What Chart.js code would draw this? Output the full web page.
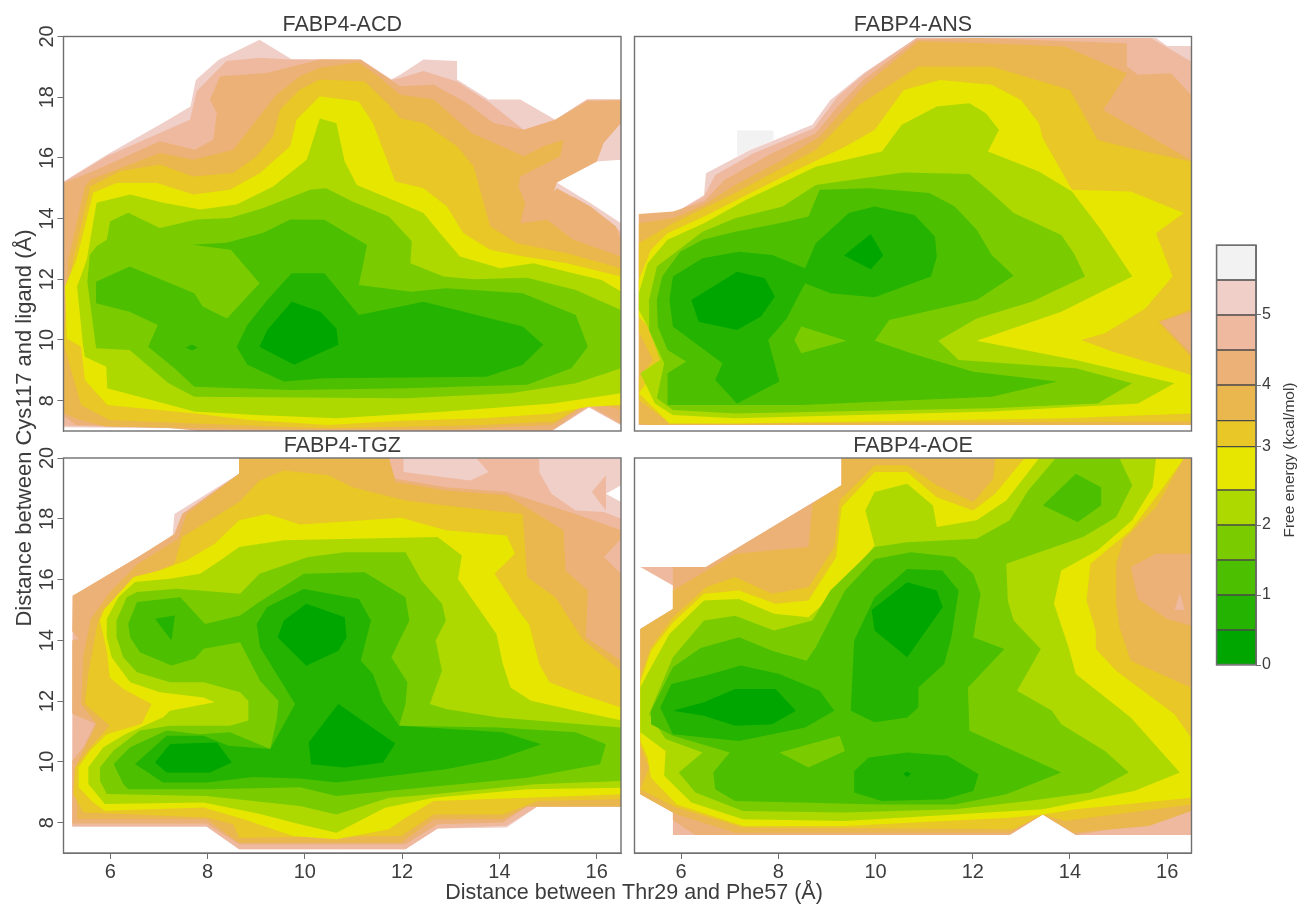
<!DOCTYPE html>
<html><head><meta charset="utf-8">
<style>html,body{margin:0;padding:0;background:#fff;width:1302px;height:908px;overflow:hidden}canvas{position:absolute}</style>
<script src="https://cdn.jsdelivr.net/npm/chart.js@4"></script>
</head><body>
<script>
// Free-energy bins, bottom to top (terrain palette)
const binColors=['#00A600','#24B300','#4CBF00','#7ACC00','#ADD900','#E6E600','#E8C727','#EAB64E','#ECB176','#EEB99F','#F0CFC8','#F2F2F2'];
const binEdges=[0,0.5,1,1.5,2,2.5,3.12,3.49,4,4.5,5,5.5,6];
const colorbarTicks=[0,1,2,3.12,4,5];
const xTickValues=[6,8,10,12,14,16];
const yTickValues=[8,10,12,14,16,18,20];
const xRange=[5.04,16.5];
const yRange=[7,20];

// ACD: contours as x,y pairs (Å)
const acd55=[5.04,15.22,5.93,16.1,7.07,17.14,7.65,17.69,7.76,18.57,8.23,19.23,9.07,19.89,9.73,19.25,11.15,19.25,11.78,18.59,11.96,18.74,12.44,19.24,13.13,19.19,13.13,18.58,13.78,17.92,14.43,17.92,15.15,17.26,15.8,17.92,16.5,17.92,16.5,15.94,16,15.88,15.18,15.19,15.87,14.51,16.5,13.85,16.5,7.2,15.84,7.78,15.08,7,7.75,7,7.75,7.08,5.04,7.12];
const acd50=[5.04,15.2,5.93,16.05,7.64,17.26,7.78,18.2,8.39,19.19,9.08,19.3,9.7,19.24,11.15,19.23,11.78,18.57,11.96,18.63,12.44,18.86,13.13,18.52,13.81,17.81,14.5,16.93,14.6,16.98,15.15,17.26,15.8,17.92,16.5,17.92,16.5,17.15,16.14,16.49,16,15.88,15.18,15.19,14.94,14.56,15.18,14.34,15.52,14.73,15.87,14.4,16.5,13.57,16.5,7.2,15.84,7.78,15.08,7,7.75,7,7.75,7.08,5.04,7.17];
const acd45=[5.04,15.17,5.65,15.56,7.02,16.55,7.74,16.27,8.12,16.6,8.19,17.48,8.05,17.92,8.26,18.69,9.22,18.8,9.9,19.08,10.31,19.24,11.15,19.23,11.78,18.55,11.96,18.36,12.65,18.41,13.33,17.81,13.88,17.15,14.5,16.93,15.15,17.26,15.8,17.87,16.5,17.9,16.5,17.15,16.14,16.49,16,15.88,15.18,15.19,15.11,14.84,14.94,14.56,15.18,15,15.87,14.4,16.4,13.74,16.5,13.3,16.5,7.25,15.84,7.85,15.08,7.02,7.75,7.02,7.2,7.1,5.3,7.2,5.04,7.5];
const acd40=[5.04,10,5.14,12.65,5.48,15.06,5.59,15.28,7.02,16.16,7.71,15.94,8.53,16.27,9.01,17.26,9.42,18.09,9.9,18.69,10.31,18.97,11.1,19.15,11.5,18.7,11.96,18.08,12.65,17.92,13.43,16.82,14.5,16.05,14.91,16.38,15.32,16.6,15.25,16.05,14.43,15.39,14.39,15.06,14.53,14.51,14.43,13.85,14.98,13.96,15.52,13.3,16.5,12.75,16.5,7.7,15.84,7.95,15.1,7.2,13,7.05,9.5,7.05,7.75,7.1,5.9,7.15,5.3,7.4,5.04,7.6];
const acd35=[5.24,12.65,5.59,15.06,6.2,15.56,7.02,15.78,7.71,15.39,8.53,15.5,9.01,16.05,9.35,16.71,9.49,17.59,9.9,18.25,10.31,18.58,11.23,18.52,11.73,17.75,11.96,17.31,12.44,17.15,13.13,16.38,13.47,15.72,13.64,14.73,13.81,13.74,14.36,13.19,15.39,12.86,16.5,12.36,16.5,8.19,15.82,7.91,15.15,7.31,13.65,7.2,10.5,7.09,7.73,7.25,5.98,7.36,5.4,7.86,5.04,9.89,5.1,11.3];
const acd30=[5.07,11.76,5.31,12.65,5.65,14.85,6.13,15.17,6.96,15.17,7.71,14.79,8.46,14.95,9.08,15.5,9.7,16.38,9.83,17.26,10.31,18.03,10.45,18,11.11,17.86,11.4,17.14,11.86,15.22,12.44,15,12.92,14.4,13.26,13.52,13.81,12.97,14.5,12.75,15.39,12.53,16.5,12.09,16.5,7.86,15.82,7.8,15.09,7.58,13.67,7.42,12,7.34,10.47,7.2,8.87,7.36,7.73,7.58,5.94,7.86,5.48,8.68,5.4,9.78,5.11,10.05];
const acd25=[5.32,11.76,5.52,12.65,5.72,14.52,6.41,14.79,7.09,14.52,7.85,14.3,8.6,14.46,9.35,15.06,10.04,15.94,10.31,17.3,10.65,17.14,10.82,15.88,11.07,15.11,11.96,14.51,12.44,14.18,12.78,13.52,13.19,12.75,14.02,12.36,14.7,12.53,15.39,12.25,16.1,11.98,16.5,11.6,16.5,8.24,15.09,7.91,12.9,7.64,10.65,7.42,9,7.53,7.73,7.64,5.94,8.41,5.92,9.12,5.48,9.45,5.44,9.84];
const acd20=[5.53,11.92,5.58,12.8,5.72,13.09,5.93,13.3,6,13.91,6.37,14.19,7.02,13.69,7.78,13.97,8.46,14.02,9.15,14.35,10.11,14.95,10.44,15,10.98,14.56,11.73,14.07,12.2,13.25,12.17,12.53,12.85,12.09,13.47,12,14.57,12.05,15.57,11.65,16.5,10.99,16.5,9.07,15.57,8.57,14.23,8.24,12.07,8.08,7.73,8.13,7.2,8.57,6.4,9.67,5.71,9.73];
const acd15=[5.71,11.92,6.4,12.42,7.73,11.54,7.9,11.1,8.4,10.71,9.07,11.87,8.48,12.97,7.68,13.14,8.39,13.2,9.15,13.53,9.7,13.97,10.4,13.96,11.28,13.13,11.11,11.81,12.19,11.59,12.9,11.7,14.48,11.54,15.57,10.82,15.82,9.78,15.48,9.07,14.57,8.52,12.07,8.41,9.73,8.35,7.73,8.46,7.32,9.07,6.78,9.78,6.98,10.49,6.4,10.93,5.71,11.21];
const acd10=[8.6,9.78,8.82,10.49,9.23,11.32,9.73,12.2,10.4,12.2,11.11,10.82,12.44,11.26,14.48,10.44,14.9,9.84,14.48,9.18,13.73,8.79,10.4,8.74,9.57,8.63,8.82,9.18];
const acd10b=[7.55,9.75,7.68,9.85,7.8,9.75,7.68,9.65];
const acd05=[9.07,9.78,9.23,10.33,9.73,11.26,10.32,10.93,10.65,10.38,10.69,9.84,9.78,9.18];
const acdLayers=[[5.5,acd55],[5,acd50],[4.5,acd45],[4,acd40],[3.5,acd35],[3,acd30],[2.5,acd25],[2,acd20],[1.5,acd15],[1,acd10],[1,acd10b],[0.5,acd05]];

// ANS
const ans60=[7.15,16.9,7.9,16.9,7.9,16.6,7.15,16.05];
const ans55=[5.13,14.15,5.83,14.15,6.47,14.78,6.51,15.49,7.42,16.26,8.7,17.09,9.07,17.91,9.75,18.79,10.84,19.95,15.77,19.95,16,19.69,16.49,19.69,16.49,7.2,5.13,7.2];
const ans50=[5.13,14.15,5.83,14.15,6.47,14.73,6.7,15.44,7.49,16.15,8.73,16.98,9.22,18.02,9.83,18.85,10.84,19.95,15.66,19.95,16.08,19.56,16.49,19.18,16.49,7.2,5.13,7.2];
const ans45=[5.13,14.15,5.83,14.23,6.47,14.56,6.89,15.27,7.87,16.15,8.77,16.81,9.22,17.69,9.75,18.57,10.84,19.89,12.08,19.95,15.17,19.78,15.17,19.01,15.4,18.74,16.08,18.79,16.49,18.08,16.49,7.2,5.13,7.2];
const ans40=[5.13,13.85,5.83,14.01,6.47,14.45,7.11,15.11,8.02,15.88,8.85,16.7,9.75,18.35,10.88,19.84,12.2,19.78,13.89,19.67,15.17,18.79,14.87,18.02,14.68,17.58,15.4,16.92,16.49,15.93,16.49,10.93,15.85,10.6,16.49,9.56,16.49,7.2,5.3,7.2,5.13,7.25];
const ans35=[5.13,13.19,5.83,13.85,7.11,14.84,7.87,15.49,8.77,16.26,9.67,17.75,10.88,19.01,12.39,19.01,14,18.24,14.19,17.69,14.57,16.59,15.4,16.26,16.49,15.88,16.49,11,15.82,10.6,16.49,9.45,16.49,7.31,7.11,7.25,5.76,7.25,5.13,8.02,5.13,8.74,5.42,9.34,5.13,10.27];
const ans30=[5.13,11.98,5.38,12.97,5.72,13.52,6.47,14.07,7.49,14.89,8.24,15.49,9.37,16.37,9.98,16.92,10.58,18.24,11.33,18.57,12.39,18.41,12.99,17.91,13.36,17.14,13.44,16.65,14.04,14.95,15.25,14.89,16.34,14.18,15.77,13.52,16.11,12.09,15.55,11.04,14.72,10.22,14.23,10,14.87,9.62,16.49,8.85,16.49,7.58,13.89,7.42,7.11,7.25,5.76,7.25,5.13,8.24,5.61,9.29,5.38,10.33,5.13,10.77];
const ans25=[5.13,11.54,5.31,12.53,5.72,13.3,6.47,13.85,7.34,14.62,8.77,15.71,10.13,16.21,10.54,17.09,11.26,17.69,11.93,17.8,12.27,17.47,12.54,16.92,12.31,16.21,13.36,15.55,14.04,14.89,14.64,13.63,15.28,12.09,13.82,10.93,12.08,9.97,14.12,9.34,16.15,8.57,15.4,7.91,12.39,7.64,7.11,7.42,5.83,7.53,5.46,7.91,5.16,8.9,5.57,9.34,5.31,10.44,5.13,10.99];
const ans20=[5.34,11.32,5.5,12.42,6.44,13.57,7.11,14.01,8.09,14.4,8.77,15.11,10.58,15.52,11.93,15.47,12.39,14.84,12.84,14.18,13.82,13.46,14.08,12.86,14.31,12.09,13.21,11.26,12.08,10.71,11.29,9.97,11.71,9.34,14.12,9.07,15.28,8.57,14.57,7.91,12.39,7.75,7.11,7.58,5.83,7.69,5.5,8.08,5.65,9.23,5.34,10.33];
const ans15=[5.5,11.32,5.61,12.09,5.98,12.91,6.44,13.3,7.11,13.57,8.02,13.85,8.62,14.07,8.85,14.95,9.9,15,11.11,14.84,11.63,14.4,12.08,13.63,12.39,12.8,12.84,12.12,12.08,11.32,10.28,10.66,9.98,9.97,10.73,9.56,12.01,8.95,13.74,8.63,12.39,8.13,8.47,7.86,5.72,7.86,5.72,8.9,6.1,9.29,5.72,9.67,5.52,10.44];
const ans20b=[8.47,10.44,9.4,9.97,8.47,9.56,8.33,10];
const ans10=[5.76,11.32,5.83,12.09,6.44,12.69,7.19,12.91,7.87,12.8,8.55,12.36,8.77,13.19,9.45,14.18,9.98,14.4,10.8,14.12,11.22,13.41,11.26,12.75,11.14,12.09,9.98,11.41,9.07,11.54,8.55,11.87,8.17,10.71,7.79,10,8.02,8.63,7.15,7.91,6.7,8.68,6.85,9.23,5.83,10.44];
const ans05a=[6.21,11.32,7.15,12.25,7.72,12.03,7.93,11.43,7.64,10.77,7.15,10.33,6.36,10.6];
const ans05b=[9.35,12.78,9.9,13.49,10.16,12.78,9.9,12.33];
const ansLayers=[[6,ans60],[5.5,ans55],[5,ans50],[4.5,ans45],[4,ans40],[3.5,ans35],[3,ans30],[2.5,ans25],[2,ans20],[1.5,ans15],[2,ans20b],[1,ans10],[0.5,ans05a],[0.5,ans05b]];

// TGZ
const tgz55=[8.65,19.98,8.65,19.48,7.32,18.16,7.28,17.39,6.57,16.74,5.23,15.47,5.22,7.87,7.98,7.87,8.65,7.12,12.07,7.12,12.73,7.81,14.15,7.84,14.78,8.53,16.5,8.53,16.5,18.55,16.19,18.82,16.5,19.1,16.5,19.98];
const tgz50=[8.65,19.48,7.48,18.16,7.44,17.4,6.65,16.68,5.23,15.47,5.22,7.87,7.98,7.87,8.65,7.12,12.07,7.12,12.73,7.81,14.15,7.9,14.78,8.53,16.5,8.53,16.5,18,16.15,18.22,15.57,18.27,15.07,18.82,14.82,19.54,14.82,19.98,13.53,19.98,13.78,19.54,13.4,19.26,12.03,19.54,12.03,19.98,8.65,19.98];
const tgz50b=[15.9,18.88,16.19,19.43,16.19,18.27];
const tgz45=[8.65,19.98,11.73,19.98,11.86,19.32,12.9,19.04,14.15,18.88,15.57,18.16,16.5,17.62,16.5,17.34,16.15,16.74,16.5,16.19,16.5,8.53,14.57,8.53,14.07,8,12.73,7.95,12.07,7.29,8.65,7.29,7.98,7.97,5.22,7.97,5.22,10.04,5.45,10.48,5.69,11.25,5.22,11.58,5.22,13.99,5.35,14.05,5.22,14.3,5.23,15.47,6.57,16.74,7.32,17.5,7.48,18.16,8.65,19.48];
const tgz40=[8.65,19.48,8.65,19.98,11.73,19.98,11.86,19.21,12.9,18.93,14.15,18.77,15.32,17.62,15.36,16.3,15.82,15.64,15.78,14.1,16.5,13.33,16.5,8.53,14.57,8.53,14.07,8.11,12.65,8.11,11.98,7.34,8.65,7.34,7.98,8.11,5.32,8.11,5.3,9.9,5.72,11.25,5.4,11.9,5.45,13.5,5.6,14.7,6,15.6,6.57,16.52,7.4,17.34,7.57,18.16];
const tgz35=[5.45,8.33,5.24,8.94,5.28,9.82,5.59,10.48,5.99,11.19,5.48,11.9,5.55,12.89,5.72,14.43,5.83,14.98,6.57,16.02,7.32,16.52,7.48,17.4,8.65,18.55,9.07,19.26,9.57,19.59,10.48,19.43,10.98,19.04,12.07,18.6,12.9,18.44,14.48,18.16,14.57,16.08,15.15,15.42,15.73,13.99,16.5,13,16.5,8.77,14.78,8.71,14.07,8.27,12.65,8.27,11.98,7.56,8.65,7.5,8.53,7.95,7.98,8.17];
const tgz30=[5.35,9.16,5.35,9.82,5.59,10.37,5.93,10.91,6.65,11.25,6.85,11.9,6.27,12.4,5.99,12.78,5.93,13.66,5.79,14.65,5.89,15.04,6.48,16.08,7.02,16.3,7.57,16.63,8.15,17.18,8.65,17.95,9.23,18.16,9.9,17.81,11.98,18.03,12.9,17.62,14.15,17.45,14.32,16.85,13.9,16.19,14.44,14.87,14.61,14.54,14.82,13.22,15.03,12.62,15.57,12.28,16.5,11.79,16.5,8.93,15.57,8.88,12.65,8.71,12.07,8.16,11.73,7.78,10.65,7.45,9.76,7.56,8.74,8.11,7.92,8.5,5.89,8.39,5.65,8.66];
const tgz25=[5.55,9.27,5.55,9.82,5.86,10.48,6.31,10.91,7.09,11.47,7.23,11.68,8.15,11.96,7.92,12.12,7.02,12.29,6.41,12.62,6.03,13.44,5.93,14.1,5.93,14.71,6.17,15.42,6.51,15.92,7.23,16.03,7.85,16.19,8.26,16.63,8.65,17.07,9.57,17.29,12.73,17.4,13.23,16.79,13.15,16.02,13.94,14.21,14.07,13.22,14.23,12.45,14.65,12.01,15.57,11.68,16.5,11.37,16.5,9.15,14.57,9.1,12.65,8.82,11.65,8.49,10.65,7.67,9.9,7.95,9.08,8.28,7.92,8.66,5.89,8.61];
const tgz20=[5.79,9.38,5.79,9.82,6.07,10.37,6.61,11.03,7.23,11.19,8.46,11.19,8.84,11.36,8.84,12,8.67,12.29,7.92,12.62,7.23,12.62,6.55,12.95,6.27,13.44,6.13,14.1,6.13,14.65,6.34,15.42,6.55,15.59,7.37,15.7,8.67,15.53,9.07,16.19,10.07,16.74,10.82,16.9,12.07,16.9,12.4,15.97,12.82,15.2,12.9,14.65,12.69,13.99,12.82,13,12.57,11.9,12.9,11.74,13.98,11.46,16.5,11.13,16.5,9.37,14.73,9.26,12.65,8.93,11.73,8.82,10.65,8.27,9.9,8.55,7.98,8.88,5.93,8.94];
const tgz15=[6.07,9.93,6.41,10.48,7.16,11.03,7.85,10.91,8.46,10.97,9.29,10.42,9.42,11.36,9.46,12,9.08,12.67,8.67,13.94,7.92,13.72,7.74,13.39,7.26,13.17,6.61,13.61,6.41,14.1,6.37,14.54,6.55,15.26,7.44,15.42,7.95,14.54,8.67,14.82,9.01,15.2,9.98,16.19,11.23,16.24,12.07,15.42,12.15,14.65,11.78,13.44,12.11,12.62,12.07,11.9,11.94,11.19,13.98,11.13,15.57,10.97,16.19,10.58,16.07,9.92,14.57,9.48,12.07,9.1,10.65,8.88,9.9,9.16,7.98,9.1,6.37,9.1,6.27,9.27];
const tgz10=[6.51,9.93,7.16,10.86,7.92,10.86,8.43,10.53,9.29,10.42,9.8,11.9,9.42,12.89,9.08,13.77,9.01,14.54,9.22,15.09,9.98,15.69,11.11,15.36,11.36,14.65,11.15,13.33,11.4,12.89,11.61,11.96,11.94,11.19,14.07,10.97,14.86,10.58,13.98,10.09,12.9,9.76,10.65,9.32,9.9,9.45,8.94,9.5,7.98,9.32,7.09,9.32];
const tgz10b=[6.92,14.71,7.33,14.82,7.26,13.99];
const tgz05a=[9.44,14.1,9.57,14.65,10.03,15.2,10.82,14.76,10.86,14.1,10.69,13.66,10.03,13.16];
const tgz05b=[10.08,10.64,10.69,11.9,11.86,10.6,11.61,9.98,10.82,9.81,10.13,9.92];
const tgz05c=[6.92,9.98,7.23,10.59,8.19,10.64,8.5,9.98,8.05,9.65,7.16,9.65];
const tgzLayers=[[5.5,tgz55],[5,tgz50],[5,tgz50b],[4.5,tgz45],[4,tgz40],[3.5,tgz35],[3,tgz30],[2.5,tgz25],[2,tgz20],[1.5,tgz15],[1,tgz10],[1,tgz10b],[0.5,tgz05a],[0.5,tgz05b],[0.5,tgz05c]];

// AOE
const aoe50=[5.16,14.37,5.83,15.03,5.83,15.8,5.16,16.41,6.51,16.41,9.3,19.1,9.3,19.98,16.49,19.98,16.49,7.59,14.12,7.59,13.44,8.27,12.76,7.59,5.83,7.59,5.83,8.33,5.16,8.93];
const aoe45=[5.16,14.37,5.83,15.03,5.83,16.41,6.51,16.41,9.3,19.1,9.3,19.98,16.49,19.98,16.49,8.38,15.62,8,14.12,7.59,13.44,8.27,12.76,7.59,6.29,7.59,5.83,8.08,5.83,8.33,5.16,8.93];
const aoe40=[5.16,14.37,5.83,15.03,5.83,15.64,7.11,16.85,8.62,17.07,8.7,18.49,9.3,19.1,9.3,19.98,16.49,19.98,16.49,16.85,15.77,16.85,15.25,16.41,15.4,15.36,16,14.7,16.49,14.48,16.49,8.38,15.62,7.89,14.08,7.67,13.44,8.27,12.76,7.67,7.11,7.67,5.91,8.27,5.16,8.93];
const aoe35=[5.16,12.78,5.38,13.77,5.83,14.76,6.51,15.75,7.11,16.08,7.87,15.53,8.62,15.75,9.15,17.07,9.26,18.6,9.98,19.76,10.65,19.76,11.26,19.1,12.01,18.55,12.42,19.32,12.46,19.98,16.34,19.98,15.77,18.38,15.1,17.29,14.95,16.52,14.95,15.2,15.02,14.43,15.25,13.33,16.49,12.45,16.49,8.6,13.89,8.05,13.44,8.27,12.84,7.78,7.27,7.84,5.91,8.49,5.16,9.1,5.34,9.81,5.16,10.53];
const aoe30=[5.16,12.62,5.38,13.66,5.83,14.59,6.47,15.53,7.19,15.64,7.94,15.2,8.62,15.31,9.19,16.74,9.3,18.38,9.98,19.54,10.65,19.54,11.26,18.71,12.01,18.27,12.46,18.82,13.06,19.98,16.34,19.98,15.92,19.04,15.25,17.62,14.42,16.52,14.34,15.31,14.53,14.32,14.53,13.71,14.95,13,16.15,11.57,16.49,10.8,16.49,8.82,14.12,8.44,13.44,8.27,12.76,8.16,9.37,7.89,7.27,7.89,5.91,8.6,5.38,9.48,5.31,10.14,5.16,10.69];
const aoe25=[5.16,12.45,5.34,13,5.76,14.21,6.47,15.31,7.19,15.36,7.91,14.87,8.62,14.76,9.3,15.75,9.98,17.12,9.79,18.27,9.98,18.88,10.65,19.15,11.18,18.44,11.26,17.73,12.08,17.95,12.69,18.6,13.36,19.98,15.77,19.98,15.7,19.04,15.28,17.95,14.57,16.96,13.82,16.3,13.67,15.2,13.97,13.77,14.12,12.89,15.25,11.46,16.26,9.65,15.32,9.04,14.12,8.66,13.44,8.44,11.63,8.27,9.37,8.05,7.27,8.11,6.21,8.66,5.65,9.54,5.68,10.36,5.16,10.97];
const aoe20=[5.34,11.57,5.83,13.44,6.47,14.65,7.11,14.81,7.91,14.32,8.7,14.65,9.07,15.64,9.67,16.57,9.98,17.07,10.65,17.23,12.08,17.34,12.76,17.95,13.14,18.93,13.7,19.98,15.02,19.98,15.28,19.1,14.95,18.05,14.27,17.4,12.69,16.52,12.72,15.31,12.84,14.65,13.4,13.71,12.91,12.34,13.63,11.68,13.82,11.24,14.72,10.36,15.21,9.65,14.42,8.99,13.14,8.71,11.63,8.44,9.37,8.33,7.27,8.38,6.29,8.99,5.95,9.65,6.44,10.31,5.68,10.75];
const aoe15=[5.38,11.68,5.83,13.11,6.4,13.75,7.19,14.1,7.87,13.66,8.58,13.33,8.77,13.77,9.37,15.64,9.98,16.68,10.73,16.9,11.63,16.74,12.01,16.19,12.16,15.53,12.01,14.1,12.65,13.71,11.9,12.45,11.93,11.02,13.82,9.65,12.69,8.93,11.63,8.6,10.13,8.6,7.11,8.71,6.7,9.1,6.66,9.65,7,10.31,5.83,10.86,5.38,11.24];
const aoe15b=[13.44,18.44,14.12,19.48,14.64,19.04,14.64,18.44,14.16,17.89];
const aoe20b=[8.02,10.31,9.26,10.86,9.37,10.36,8.62,9.81];
const aoe10a=[9.49,11.68,9.56,13.99,9.98,15.42,10.65,16.35,11.37,16.3,11.71,15.64,11.56,14.1,11.41,13.22,10.88,12.45,10.88,11.79,10.65,11.46,9.98,11.3];
const aoe10b=[5.57,11.79,5.8,12.56,6.51,12.84,7.23,13.17,8.02,12.89,8.85,12.34,9.15,11.68,8.55,11.13,7.19,10.69,5.83,10.91];
const aoe10c=[9.56,9.7,9.86,10.14,10.65,10.31,11.48,10.2,12.12,9.59,12.01,9.04,11.41,8.77,10.13,8.71,9.56,8.99];
const aoe05a=[5.83,11.68,6.47,11.96,7.11,12.4,7.94,12.4,8.36,11.68,7.87,11.24,7.11,11.19,6.47,11.52];
const aoe05b=[9.92,15,10.65,15.91,11.26,15.64,11.38,15.09,10.65,13.44,9.98,14.32];
const aoe05c=[10.57,9.6,10.65,9.68,10.73,9.6,10.65,9.5];
const aoe55b=[16.15,15,16.26,15.55,16.36,15];
const aoeLayers=[[5,aoe50],[4.5,aoe45],[4,aoe40],[5,aoe55b],[3.5,aoe35],[3,aoe30],[2.5,aoe25],[2,aoe20],[1.5,aoe15],[1.5,aoe15b],[2,aoe20b],[1,aoe10a],[1,aoe10b],[1,aoe10c],[0.5,aoe05a],[0.5,aoe05b],[0.5,aoe05c]];

const FONT='"Liberation Sans", Arial, sans-serif';
const INK='#3c3c3c', FRAME='#6f6f6f';

// Fill each closed contour from the points placed by the chart's scales.
const contourFill={id:'contourFill',
  beforeDatasetDraw(chart,args){
    const ds=chart.data.datasets[args.index]; const pts=args.meta.data;
    if(!pts.length) return;
    const a=chart.chartArea,c=chart.ctx;
    c.save();c.beginPath();c.rect(a.left,a.top,a.width,a.height);c.clip();
    c.beginPath();pts.forEach((p,i)=>i?c.lineTo(p.x,p.y):c.moveTo(p.x,p.y));c.closePath();
    c.fillStyle=ds.backgroundColor;c.fill();c.restore();
  }};
const frame={id:'frame',afterDraw(chart){
  const a=chart.chartArea,c=chart.ctx;c.save();c.strokeStyle=FRAME;c.lineWidth=1.4;
  c.strokeRect(a.left,a.top,a.width,a.height);c.restore();}};

function addCanvas(l,t,w,h,z){
  const cv=document.createElement('canvas');cv.width=w;cv.height=h;
  cv.style.cssText=`left:${l}px;top:${t}px;width:${w}px;height:${h}px;z-index:${z||1}`;
  document.body.appendChild(cv);return cv;
}
function pairs(flat){const o=[];for(let i=0;i<flat.length;i+=2)o.push({x:flat[i],y:flat[i+1]});return o;}

function panel(o){
  const cv=addCanvas(o.l,o.t,o.w,o.h);
  new Chart(cv,{type:'scatter',
    data:{datasets:o.layers.map(([lv,flat],i)=>({label:'< '+lv,data:pairs(flat),
      backgroundColor:binColors[Math.round(lv*2)-1],pointRadius:0,showLine:false,order:o.layers.length-i}))},
    options:{responsive:false,animation:false,events:[],
      layout:{padding:o.pad},
      plugins:{legend:{display:false},tooltip:{enabled:false},
        title:{display:true,fullSize:false,text:o.title,color:INK,font:{family:FONT,size:21.5,weight:'normal',lineHeight:1.1},padding:o.titlePad}},
      scales:{
        x:{type:'linear',min:xRange[0],max:xRange[1],display:o.showX,
          afterBuildTicks(s){s.ticks=xTickValues.map(v=>({value:v}));},
          afterFit(s){if(o.showX)s.height=40;},
          grid:{drawOnChartArea:false,drawTicks:true,tickLength:6,color:FRAME},border:{color:FRAME,width:1},
          ticks:{color:INK,font:{family:FONT,size:20},padding:1,maxRotation:0,autoSkip:false,callback:v=>String(v)}},
        y:{type:'linear',min:yRange[0],max:yRange[1],display:o.showY,
          afterBuildTicks(s){s.ticks=yTickValues.map(v=>({value:v}));},
          afterFit(s){if(o.showY)s.width=63.5;},
          grid:{drawOnChartArea:false,drawTicks:true,tickLength:6,color:FRAME},border:{color:FRAME,width:1},
          ticks:{color:INK,font:{family:FONT,size:20},padding:-1.5,minRotation:90,maxRotation:90,crossAlign:'center',autoSkip:false,callback:v=>String(v)}}
      }},
    plugins:[contourFill,frame]});
}
panel({l:0,t:0,w:635,h:445,layers:acdLayers,title:'FABP4-ACD',showX:false,showY:true,
  pad:{left:0,right:14,top:0,bottom:14},titlePad:{top:12.85,bottom:0}});
panel({l:625,t:0,w:577,h:445,layers:ansLayers,title:'FABP4-ANS',showX:false,showY:false,
  pad:{left:9.5,right:10.5,top:0,bottom:14},titlePad:{top:12.85,bottom:0}});
panel({l:0,t:431,w:635,h:477,layers:tgzLayers,title:'FABP4-TGZ',showX:true,showY:true,
  pad:{left:0,right:14,top:0,bottom:15},titlePad:{top:3.35,bottom:0}});
panel({l:625,t:431,w:577,h:477,layers:aoeLayers,title:'FABP4-AOE',showX:true,showY:false,
  pad:{left:9.5,right:10.5,top:0,bottom:15},titlePad:{top:3.35,bottom:0}});

// Colour bar
const barTitle={id:'barTitle',afterDraw(chart){
  const c=chart.ctx;c.save();c.translate(90,230);c.rotate(-Math.PI/2);
  c.font='15.5px '+FONT;c.fillStyle=INK;c.textAlign='center';c.textBaseline='middle';
  c.fillText('Free energy (kcal/mol)',0,0);c.restore();}};
new Chart(addCanvas(1200,230,102,450),{type:'bar',
  data:{labels:['bar'],datasets:binColors.map((col,i)=>({label:binEdges[i]+'-'+binEdges[i+1],data:[[binEdges[i],binEdges[i+1]]],
    backgroundColor:col,borderColor:'#4a4a4a',borderWidth:1,borderSkipped:false,barPercentage:1,categoryPercentage:1}))},
  options:{responsive:false,animation:false,events:[],
    layout:{padding:{left:16.5,right:0,top:15,bottom:15}},
    plugins:{legend:{display:false},tooltip:{enabled:false}},
    scales:{
      x:{stacked:true,display:false},
      y:{position:'right',min:0,max:6,
        afterBuildTicks(s){s.ticks=colorbarTicks.map(v=>({value:v}));},
        afterFit(s){s.width=46;},
        grid:{drawOnChartArea:false,drawTicks:true,tickLength:5,color:FRAME},border:{color:FRAME},
        ticks:{color:INK,font:{family:FONT,size:16},padding:1,autoSkip:false,callback:v=>String(Math.floor(v))}}
    }},
  plugins:[barTitle,frame]});

// Shared axis titles, on a transparent chart spanning the page
const overlay=addCanvas(0,0,1302,908,5);overlay.style.pointerEvents='none';
new Chart(overlay,{type:'scatter',data:{datasets:[]},
  options:{responsive:false,animation:false,events:[],
    layout:{padding:{left:11.8,right:80.2,top:30.9,bottom:2.1}},
    plugins:{legend:{display:false},tooltip:{enabled:false}},
    scales:{
      x:{type:'linear',min:0,max:1,grid:{display:false},border:{display:false},ticks:{display:false},
        title:{display:true,text:'Distance between Thr29 and Phe57 (Å)',color:INK,font:{family:FONT,size:21.5,lineHeight:1.2},padding:{top:47,bottom:0}}},
      y:{type:'linear',min:0,max:1,grid:{display:false},border:{display:false},ticks:{display:false},
        title:{display:true,text:'Distance between Cys117 and ligand (Å)',color:INK,font:{family:FONT,size:22,lineHeight:1.2},padding:{top:0,bottom:0}}}
    }}});
</script>
</body></html>
